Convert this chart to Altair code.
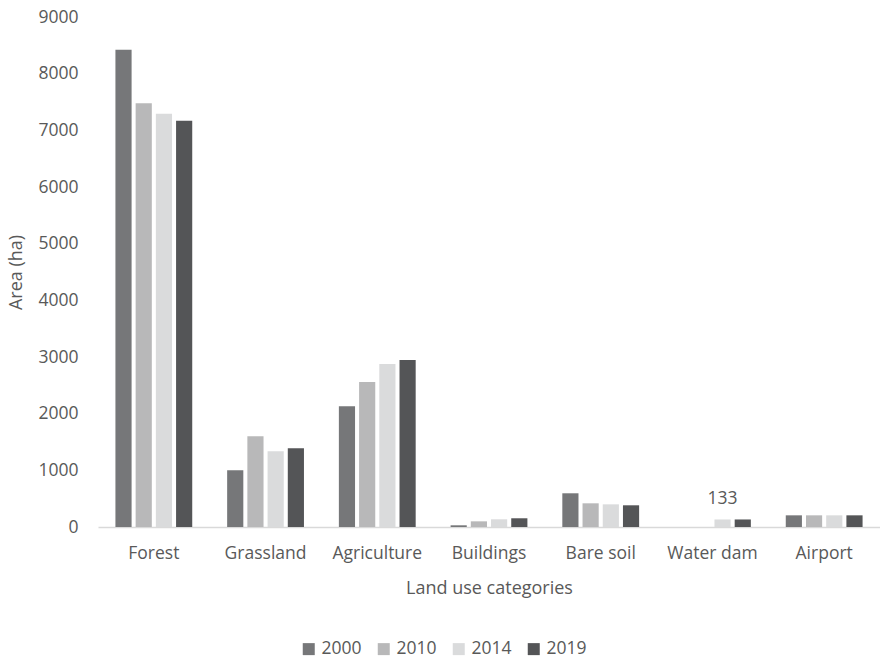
import altair as alt
import pandas as pd

categories = ["Forest", "Grassland", "Agriculture", "Buildings", "Bare soil", "Water dam", "Airport"]
years = ["2000", "2010", "2014", "2019"]
v2000 = [8422, 1002, 2133, 30, 595, 0, 206]
v2010 = [7480, 1602, 2557, 100, 418, 0, 206]
v2014 = [7292, 1337, 2875, 136, 400, 133, 206]
v2019 = [7168, 1390, 2945, 154, 383, 133, 206]
colors = ["#767779", "#b8b8b9", "#dadbdc", "#545557"]
label_cat = "Water dam"
label_year = "2014"

rows = []
for yr, vals in zip(years, [v2000, v2010, v2014, v2019]):
    for c, v in zip(categories, vals):
        rows.append({"cat": c, "year": yr, "area": v})
df = pd.DataFrame(rows)

font = "Open Sans"
tc = "#595959"

x = alt.X("cat:N", sort=categories, title="Land use categories",
          scale=alt.Scale(paddingInner=0.3125, paddingOuter=0.156),
          axis=alt.Axis(labelAngle=0, labelFontSize=17.5, labelColor=tc, labelFont=font,
                        titleFontSize=18, titleColor=tc, titleFont=font, titleFontWeight="normal",
                        ticks=False, domainColor="#d9d9d9", domainWidth=1.5,
                        labelPadding=17, titlePadding=18))
xo = alt.XOffset("year:N", sort=years, scale=alt.Scale(paddingInner=0.2, paddingOuter=0))
y = alt.Y("area:Q", title="Area (ha)",
          scale=alt.Scale(domain=[0, 9000], nice=False),
          axis=alt.Axis(values=list(range(0, 9001, 1000)), format="d", grid=False, domain=False, ticks=False,
                        labelFontSize=17.5, labelColor=tc, labelFont=font, labelPadding=20,
                        titleFontSize=18, titleColor=tc, titleFont=font, titleFontWeight="normal",
                        titlePadding=12))

bars = alt.Chart(df).mark_bar().encode(
    x=x, xOffset=xo, y=y,
    color=alt.Color("year:N", sort=years, scale=alt.Scale(domain=years, range=colors),
                    legend=alt.Legend(title=None, orient="none", direction="horizontal",
                                      legendX=202, legendY=623,
                                      symbolType="square", symbolSize=144, symbolStrokeWidth=0,
                                      labelFontSize=17.5, labelColor=tc, labelFont=font,
                                      labelOffset=4, columnPadding=13))
)

text = alt.Chart(df).transform_filter(
    (alt.datum.cat == label_cat) & (alt.datum.year == label_year)
).mark_text(font=font, fontSize=17.5, color=tc, baseline="alphabetic", dy=-15).encode(
    x=alt.X("cat:N", sort=categories), xOffset=alt.XOffset("year:N", sort=years),
    y="area:Q", text="area:Q"
)

chart = alt.layer(bars, text).properties(
    width=782, height=510,
    autosize=alt.AutoSizeParams(type="none"),
    padding={"left": 98, "top": 17, "right": 0, "bottom": 132},
    background="white"
).configure_view(stroke=None)

chart.save("out.html", embed_options={"renderer": "svg", "actions": False})
